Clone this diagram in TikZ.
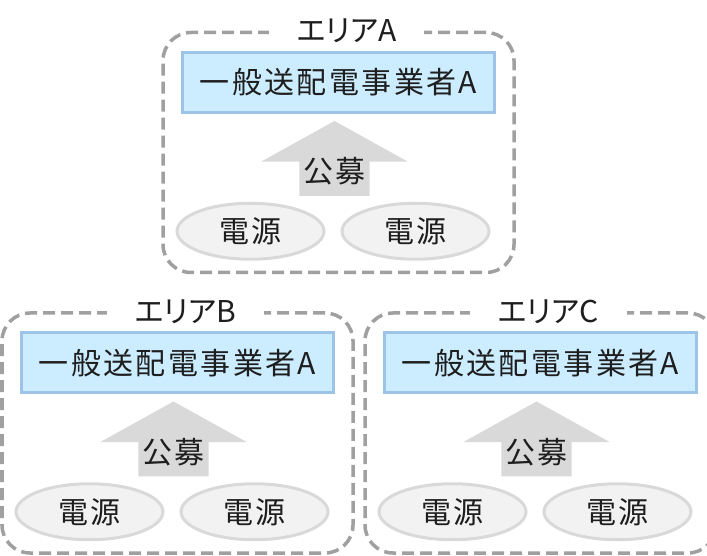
\documentclass[tikz,border=0pt]{standalone}
\usepackage{fontspec}
\setmainfont{Noto Sans CJK JP}[LetterSpace=8]
\newfontfamily\lblfont{Noto Sans CJK JP}[RawFeature=+palt]
\usepackage{tikz}
\usetikzlibrary{positioning,shapes.geometric,shapes.arrows}
\definecolor{opfill}{RGB}{204,236,255}
\definecolor{opline}{RGB}{157,195,230}
\definecolor{srcfill}{RGB}{242,242,242}
\definecolor{srcline}{RGB}{217,217,217}
\definecolor{arealine}{RGB}{160,160,160}
\definecolor{txt}{RGB}{30,30,30}

\begin{document}
\begin{tikzpicture}[x=1pt,y=1pt,node distance=15pt,text=txt,font=\fontsize{30}{36}\selectfont,
    area/.style={draw=arealine,line width=3.5pt,dash pattern=on 12pt off 6pt,rounded corners=28pt,
      minimum width=351pt,minimum height=240pt},
    arealbl/.style={fill=white,inner xsep=28pt,inner ysep=2pt,font=\lblfont\fontsize{30}{36}\selectfont},
    opbox/.style={draw=opline,fill=opfill,line width=3pt,minimum width=312pt,minimum height=60pt,inner sep=0pt},
    bid/.style={single arrow,fill=srcline,rotate=90,anchor=tip,inner xsep=0pt,inner ysep=35pt,
      minimum height=75pt,single arrow head extend=38pt,single arrow tip angle=122},
    src/.style={ellipse,draw=srcline,fill=srcfill,line width=3pt,minimum width=147pt,minimum height=56pt,inner sep=0pt}]
  \useasboundingbox (0,0) rectangle (707,555);

  % area A
  \node[area]    (zA) at (338.5,402.5) {};
  \node[arealbl] (lA) at ([xshift=8pt]zA.north) {エリアA};
  \node[opbox]   (opA) [below=20pt of zA.north] {一般送配電事業者A};
  \node[bid]     (arA) at ([xshift=-4pt,yshift=-7pt]opA.south) {};
  \node          (kA) at ([yshift=25pt]arA.tail) {公募};
  \node[src]     (sA1) at ([xshift=-88pt,yshift=43pt]zA.south) {電源};
  \node[src]     (sA2) [right=of sA1] {電源};

  % area B
  \node[area]    (zB) at (177.5,122) {};
  \node[arealbl] (lB) at ([xshift=8pt]zB.north) {エリアB};
  \node[opbox]   (opB) [below=20pt of zB.north] {一般送配電事業者A};
  \node[bid]     (arB) at ([xshift=-4pt,yshift=-7pt]opB.south) {};
  \node          (kB) at ([yshift=25pt]arB.tail) {公募};
  \node[src]     (sB1) at ([xshift=-88pt,yshift=43pt]zB.south) {電源};
  \node[src]     (sB2) [right=of sB1] {電源};

  % area C
  \node[area]    (zC) at (540.5,122) {};
  \node[arealbl] (lC) at ([xshift=8pt]zC.north) {エリアC};
  \node[opbox]   (opC) [below=20pt of zC.north] {一般送配電事業者A};
  \node[bid]     (arC) at ([xshift=-4pt,yshift=-7pt]opC.south) {};
  \node          (kC) at ([yshift=25pt]arC.tail) {公募};
  \node[src]     (sC1) at ([xshift=-88pt,yshift=43pt]zC.south) {電源};
  \node[src]     (sC2) [right=of sC1] {電源};
\end{tikzpicture}
\end{document}
